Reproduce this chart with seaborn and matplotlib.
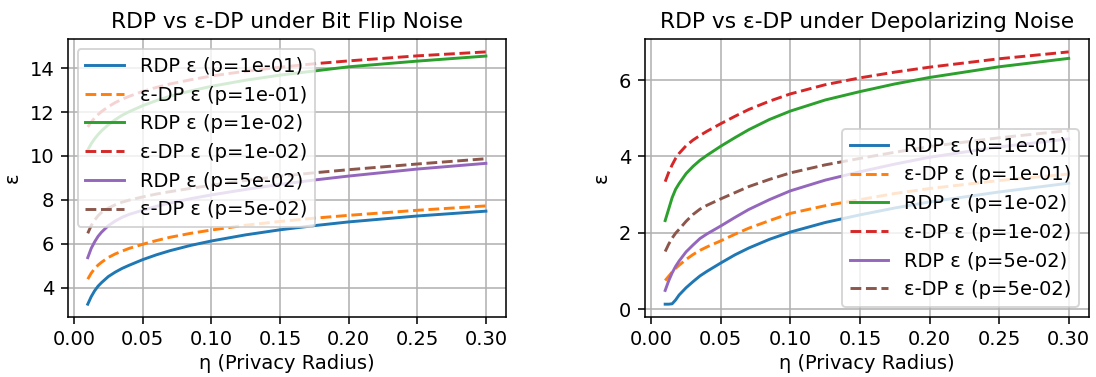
import matplotlib
matplotlib.use("Agg")
import matplotlib.pyplot as plt
import seaborn as sns
import pandas as pd

# Privacy radius grid
eta = [0.01, 0.0125, 0.015, 0.0175, 0.02, 0.025, 0.03, 0.035, 0.04, 0.05,
       0.06, 0.07, 0.085, 0.10, 0.125, 0.15, 0.175, 0.20, 0.25, 0.30]

# Bit flip noise: epsilon values
bf_rdp_p1 = [3.24, 3.58, 3.85, 4.06, 4.22, 4.50, 4.70, 4.87, 5.01, 5.27,
             5.49, 5.68, 5.92, 6.12, 6.40, 6.63, 6.82, 6.99, 7.26, 7.48]
bf_dp_p1 = [4.38, 4.65, 4.86, 5.02, 5.15, 5.37, 5.53, 5.66, 5.78, 5.97,
            6.14, 6.29, 6.47, 6.62, 6.84, 7.01, 7.16, 7.29, 7.52, 7.72]
bf_rdp_p01 = [10.27, 10.55, 10.78, 10.97, 11.14, 11.42, 11.65, 11.85, 12.01, 12.29,
              12.52, 12.72, 12.96, 13.17, 13.45, 13.68, 13.87, 14.06, 14.32, 14.55]
bf_dp_p01 = [11.32, 11.54, 11.73, 11.88, 12.02, 12.24, 12.43, 12.58, 12.71, 12.94,
             13.12, 13.28, 13.47, 13.64, 13.86, 14.04, 14.20, 14.33, 14.56, 14.74]
bf_rdp_p05 = [5.36, 5.78, 6.08, 6.33, 6.52, 6.82, 7.03, 7.20, 7.33, 7.52,
              7.70, 7.85, 8.05, 8.22, 8.47, 8.70, 8.90, 9.08, 9.40, 9.66]
bf_dp_p05 = [6.47, 6.82, 7.07, 7.27, 7.42, 7.62, 7.77, 7.89, 7.98, 8.13,
             8.26, 8.37, 8.52, 8.66, 8.88, 9.07, 9.23, 9.37, 9.63, 9.87]

# Depolarizing noise: epsilon values
dp_rdp_p1 = [0.13, 0.13, 0.14, 0.24, 0.37, 0.56, 0.72, 0.87, 0.99, 1.21,
             1.42, 1.60, 1.83, 2.02, 2.27, 2.47, 2.65, 2.81, 3.07, 3.30]
dp_dp_p1 = [0.75, 0.86, 0.97, 1.07, 1.15, 1.30, 1.43, 1.54, 1.63, 1.79,
            1.96, 2.12, 2.32, 2.51, 2.71, 2.87, 3.03, 3.16, 3.37, 3.54]
dp_rdp_p01 = [2.32, 2.62, 2.92, 3.14, 3.29, 3.55, 3.74, 3.90, 4.03, 4.27,
              4.49, 4.70, 4.97, 5.19, 5.48, 5.70, 5.90, 6.07, 6.35, 6.57]
dp_dp_p01 = [3.34, 3.58, 3.78, 3.95, 4.08, 4.28, 4.43, 4.55, 4.66, 4.86,
             5.05, 5.23, 5.45, 5.64, 5.88, 6.06, 6.21, 6.34, 6.56, 6.74]
dp_rdp_p05 = [0.49, 0.74, 0.95, 1.12, 1.26, 1.50, 1.68, 1.85, 1.97, 2.18,
              2.40, 2.61, 2.87, 3.10, 3.38, 3.60, 3.80, 3.98, 4.25, 4.46]
dp_dp_p05 = [1.51, 1.70, 1.86, 1.99, 2.09, 2.30, 2.48, 2.62, 2.72, 2.89,
             3.05, 3.21, 3.40, 3.57, 3.78, 3.95, 4.11, 4.26, 4.49, 4.68]

labels = ["RDP ε (p=1e-01)", "ε-DP ε (p=1e-01)",
          "RDP ε (p=1e-02)", "ε-DP ε (p=1e-02)",
          "RDP ε (p=5e-02)", "ε-DP ε (p=5e-02)"]
colors = ["C0", "C1", "C2", "C3", "C4", "C5"]
styles = ["-", "--", "-", "--", "-", "--"]
xticks = [0.00, 0.05, 0.10, 0.15, 0.20, 0.25, 0.30]

panels = [
    ("RDP vs ε-DP under Bit Flip Noise",
     [bf_rdp_p1, bf_dp_p1, bf_rdp_p01, bf_dp_p01, bf_rdp_p05, bf_dp_p05],
     "upper left", [4, 6, 8, 10, 12, 14]),
    ("RDP vs ε-DP under Depolarizing Noise",
     [dp_rdp_p1, dp_dp_p1, dp_rdp_p01, dp_dp_p01, dp_rdp_p05, dp_dp_p05],
     "lower right", [0, 2, 4, 6]),
]

DPI = 140
fig = plt.figure(figsize=(1096 / DPI, 377 / DPI), dpi=DPI)
positions = [[0.0619, 0.1597, 0.3996, 0.7361],
             [0.5885, 0.1597, 0.4050, 0.7361]]

for pos, (title, series, loc, yticks) in zip(positions, panels):
    ax = fig.add_axes(pos)
    for vals, lab, col, ls in zip(series, labels, colors, styles):
        df = pd.DataFrame({"eta": eta, "eps": vals})
        sns.lineplot(data=df, x="eta", y="eps", ax=ax, color=col,
                     linestyle=ls, linewidth=1.5, label=lab)
    ax.set_title(title, fontsize=11.2)
    ax.set_xlabel("η (Privacy Radius)", labelpad=2.5)
    ax.set_ylabel("ε")
    ax.set_xticks(xticks)
    ax.set_yticks(yticks)
    ax.grid(True)
    ax.legend(loc=loc)

fig.savefig("out.png", dpi=DPI)
